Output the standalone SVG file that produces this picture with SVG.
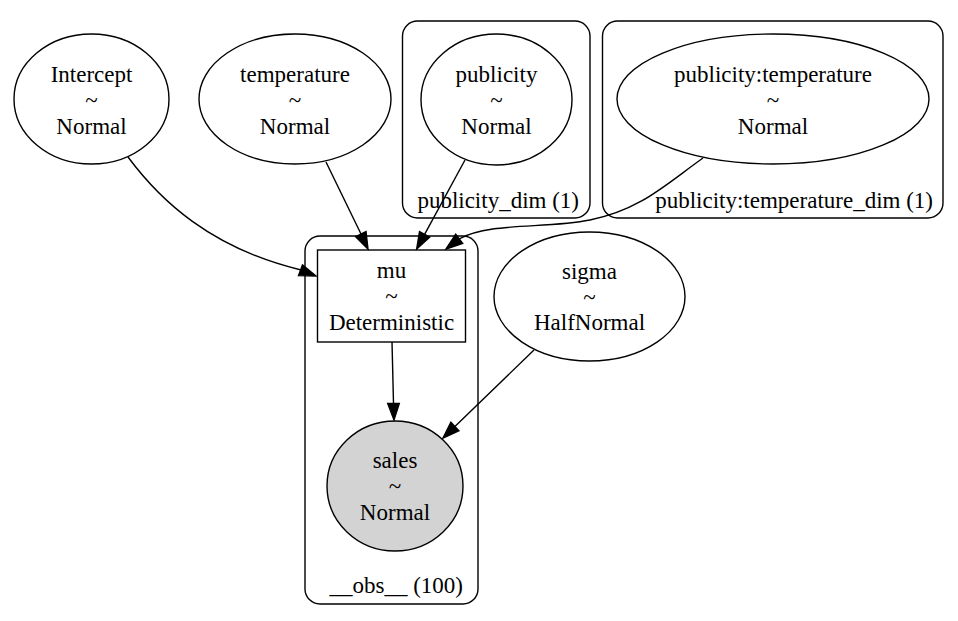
<svg xmlns="http://www.w3.org/2000/svg" width="958" height="621" viewBox="0 0 958 621" font-family="'Liberation Serif', 'Times New Roman', Times, serif" font-size="23">
<style>
text{font-family:'Liberation Serif','Times New Roman',Times,serif;font-size:23px;fill:#000}
.c{text-anchor:middle}
.e{text-anchor:end}
.n{fill:none;stroke:#000;stroke-width:1.4}
.w{fill:#fff;stroke:#000;stroke-width:1.4}
.edge path{fill:none;stroke:#000;stroke-width:1.4}
.edge polygon{fill:#000;stroke:#000;stroke-width:1.4}
</style>
<rect width="958" height="621" fill="#fff"/>
<g id="cluster_publicity_dim">
<rect class="n" x="402.5" y="21" width="187.5" height="197" rx="15"/>
<text class="e" x="579" y="208">publicity_dim (1)</text>
</g>
<g id="cluster_publicity_temperature_dim">
<rect class="n" x="602.5" y="21" width="340.5" height="197" rx="15"/>
<text class="e" x="933" y="208">publicity:temperature_dim (1)</text>
</g>
<g id="cluster_obs">
<rect class="n" x="305" y="236" width="173" height="368" rx="15"/>
<text class="e" x="463" y="593">__obs__ (100)</text>
</g>
<g id="Intercept">
<ellipse class="w" cx="91.5" cy="99" rx="77.5" ry="65"/>
<text class="c" x="91.5" y="82">Intercept</text>
<text class="c" x="91.5" y="108">~</text>
<text class="c" x="91.5" y="134">Normal</text>
</g>
<g id="temperature">
<ellipse class="w" cx="295" cy="99" rx="96" ry="65"/>
<text class="c" x="295" y="82">temperature</text>
<text class="c" x="295" y="108">~</text>
<text class="c" x="295" y="134">Normal</text>
</g>
<g id="publicity">
<ellipse class="w" cx="496.5" cy="99.5" rx="75.5" ry="65.5"/>
<text class="c" x="496.5" y="82">publicity</text>
<text class="c" x="496.5" y="108">~</text>
<text class="c" x="496.5" y="134">Normal</text>
</g>
<g id="publicity_temperature">
<ellipse class="w" cx="773" cy="99" rx="156" ry="65"/>
<text class="c" x="773" y="82">publicity:temperature</text>
<text class="c" x="773" y="108">~</text>
<text class="c" x="773" y="134">Normal</text>
</g>
<g id="mu">
<rect class="w" x="317.5" y="250" width="148" height="92"/>
<text class="c" x="391.5" y="278">mu</text>
<text class="c" x="391.5" y="304">~</text>
<text class="c" x="391.5" y="330">Deterministic</text>
</g>
<g id="sigma">
<ellipse class="w" cx="589.5" cy="296.5" rx="95.5" ry="64.5"/>
<text class="c" x="589.5" y="279">sigma</text>
<text class="c" x="589.5" y="305">~</text>
<text class="c" x="589.5" y="330">HalfNormal</text>
</g>
<g id="sales">
<ellipse cx="395" cy="486" rx="68" ry="65" fill="#d3d3d3" stroke="#000" stroke-width="1.4"/>
<text class="c" x="395" y="468">sales</text>
<text class="c" x="395" y="494">~</text>
<text class="c" x="395" y="520">Normal</text>
</g>
<g id="edges" class="edge">
<path d="M128,157 C160,200 210,248 301,270"/>
<polygon points="316,276 298.5,275.6 302.5,264.8"/>
<path d="M326,162 L361,234"/>
<polygon points="368,249 366,231.6 355.6,236.6"/>
<path d="M465,160 L424.6,234.4"/>
<polygon points="416.7,249 429.7,237.2 419.5,231.6"/>
<path d="M703,158 C665,185 640,210 590,220 C545,229 490,222 459,239"/>
<polygon points="446,249 462.7,243.5 455.7,234.3"/>
<path d="M392,342 L393.5,403.4"/>
<polygon points="394,420 387.7,403.4 399.3,403.4"/>
<path d="M534,350 L454.9,426.5"/>
<polygon points="443,438 458.9,430.7 450.9,422.3"/>
</g>
</svg>
